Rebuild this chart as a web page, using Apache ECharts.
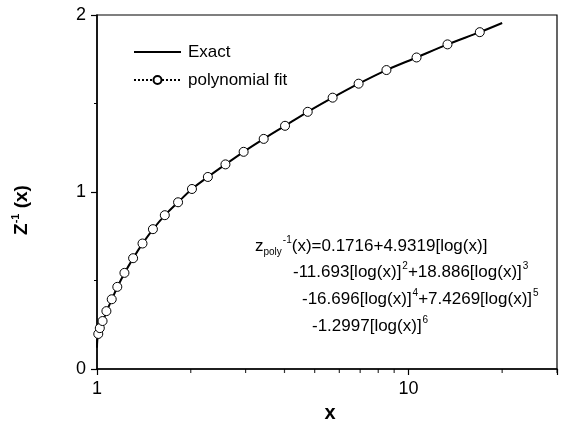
<!DOCTYPE html>
<html>
  <head>
    <meta charset="utf-8" />
    <title>z inverse fit</title>
    <style type="text/css">
      html,
      body {
        width: 100%;
        height: 100%;
        margin: 0px;
        background: #fff;
      }

      #chart {
        width: 562px;
        height: 432px;
      }
    </style>
    <script type="text/javascript" src="https://cdn.jsdelivr.net/npm/echarts@6/dist/echarts.min.js"></script>
  </head>

  <body>
    <div id="chart"></div>
    <script>
      // values
      const xExact = [1.0, 1.002, 1.0095, 1.021, 1.042, 1.072, 1.115, 1.162, 1.225, 1.306, 1.40, 1.512, 1.651, 1.821, 2.018, 2.27, 2.585, 2.957, 3.43, 4.016, 4.75, 5.71, 6.92, 8.5, 10.62, 13.35, 16.95, 20.0];
      const yExact = [0.12, 0.16, 0.198, 0.225, 0.265, 0.322, 0.392, 0.462, 0.541, 0.625, 0.708, 0.789, 0.868, 0.942, 1.017, 1.085, 1.156, 1.227, 1.300, 1.374, 1.453, 1.533, 1.612, 1.689, 1.760, 1.834, 1.903, 1.955];

      const xFit = [1.0095, 1.021, 1.042, 1.072, 1.115, 1.162, 1.225, 1.306, 1.40, 1.512, 1.651, 1.821, 2.018, 2.27, 2.585, 2.957, 3.43, 4.016, 4.75, 5.71, 6.92, 8.5, 10.62, 13.35, 16.95];
      const yFit = [0.198, 0.231, 0.271, 0.327, 0.394, 0.464, 0.543, 0.626, 0.709, 0.790, 0.869, 0.942, 1.017, 1.085, 1.156, 1.227, 1.300, 1.374, 1.453, 1.533, 1.612, 1.689, 1.760, 1.834, 1.903];

      const xMinorTicks = [2, 3, 4, 5, 6, 7, 8, 9, 20, 30];
      const xTickLabels = [1, 10];
      const seriesNames = ['Exact', 'polynomial fit'];
      const eqLines = [
        '{t|z}{sub|poly}{sup|-1}{t|(x)=0.1716+4.9319[log(x)]}',
        '{t|-11.693[log(x)]}{sup|2}{t|+18.886[log(x)]}{sup|3}',
        '{t|-16.696[log(x)]}{sup|4}{t|+7.4269[log(x)]}{sup|5}',
        '{t|-1.2997[log(x)]}{sup|6}'
      ];

      const font = 'Liberation Sans, Arial, sans-serif';
      const zip = (xs, ys) => xs.map((x, i) => [x, ys[i]]);

      const eqRich = {
        t: { fontSize: 17, fontFamily: font, color: '#000', lineHeight: 22 },
        sup: { fontSize: 10, fontFamily: font, color: '#000', verticalAlign: 'top', lineHeight: 22, padding: [0, 0, 0, 1] },
        sub: { fontSize: 10, fontFamily: font, color: '#000', verticalAlign: 'bottom', lineHeight: 22 }
      };
      const eqPos = [[255, 246], [293, 272], [302, 299], [312, 326]];

      const chart = echarts.init(document.getElementById('chart'), null, { renderer: 'canvas' });

      const option = {
        backgroundColor: '#fff',
        animation: false,
        grid: {
          left: 97, right: 5, top: 15, bottom: 63,
          show: true, borderColor: '#000', borderWidth: 1.2
        },
        legend: {
          data: [
            { name: seriesNames[0], itemStyle: { opacity: 0 } },
            { name: seriesNames[1] }
          ],
          orient: 'vertical',
          left: 128,
          top: 37,
          itemWidth: 47,
          itemHeight: 10,
          itemGap: 8,
          textStyle: { fontSize: 17, fontFamily: font, color: '#000', lineHeight: 20, padding: [0, 0, 0, 2] }
        },
        xAxis: {
          type: 'log',
          logBase: 10,
          min: 1,
          max: 30,
          splitLine: { show: false },
          axisLine: { lineStyle: { color: '#000', width: 1.5 } },
          axisTick: { length: 6, lineStyle: { color: '#000', width: 1.2 } },
          axisLabel: {
            fontSize: 18, fontFamily: font, color: '#000', margin: 11,
            formatter: v => (xTickLabels.indexOf(Math.round(v)) >= 0 ? String(Math.round(v)) : '')
          }
        },
        yAxis: {
          type: 'value',
          min: 0,
          max: 2,
          interval: 1,
          splitLine: { show: false },
          axisLine: { show: true, lineStyle: { color: '#000', width: 1.5 } },
          axisTick: { show: true, length: 6, lineStyle: { color: '#000', width: 1.2 } },
          minorTick: { show: true, splitNumber: 2, length: 3, lineStyle: { color: '#000', width: 1 } },
          axisLabel: { fontSize: 18, fontFamily: font, color: '#000', margin: 11 }
        },
        series: [
          {
            name: 'Exact',
            type: 'line',
            data: zip(xExact, yExact),
            showSymbol: false,
            symbol: 'none',
            smooth: 0.3,
            itemStyle: { color: '#000' },
            lineStyle: { color: '#000', width: 2 },
            z: 3
          },
          {
            name: 'polynomial fit',
            type: 'line',
            data: zip(xFit, yFit),
            symbol: 'circle',
            symbolSize: 9,
            itemStyle: { color: '#fff', borderColor: '#000', borderWidth: 1 },
            lineStyle: { color: '#000', width: 1, type: 'dotted' },
            z: 4
          },
          {
            name: 'minor',
            type: 'scatter',
            data: xMinorTicks.map(x => [x, 0]),
            symbol: 'rect',
            symbolSize: [1.2, 4],
            symbolOffset: [0, 2],
            itemStyle: { color: '#000' },
            clip: false,
            silent: true,
            z: 5
          }
        ],
        graphic: [
          {
            type: 'text',
            x: 22,
            y: 210,
            rotation: Math.PI / 2,
            style: {
              text: '{b|Z}{s|-1}{b| (x)}',
              align: 'center',
              verticalAlign: 'middle',
              rich: {
                b: { fontSize: 19, fontWeight: 'bold', fontFamily: font, color: '#000', lineHeight: 24 },
                s: { fontSize: 11, fontWeight: 'bold', fontFamily: font, color: '#000', verticalAlign: 'top', lineHeight: 24 }
              }
            }
          },
          {
            type: 'text',
            x: 330,
            y: 413,
            style: {
              text: 'x',
              align: 'center',
              verticalAlign: 'middle',
              fontSize: 20,
              fontWeight: 'bold',
              fontFamily: font,
              fill: '#000'
            }
          }
        ].concat(eqLines.map((line, i) => ({
          type: 'text',
          x: eqPos[i][0],
          y: eqPos[i][1],
          style: {
            text: line,
            align: 'left',
            verticalAlign: 'middle',
            rich: eqRich
          }
        })))
      };

      chart.setOption(option);
    </script>
  </body>
</html>
